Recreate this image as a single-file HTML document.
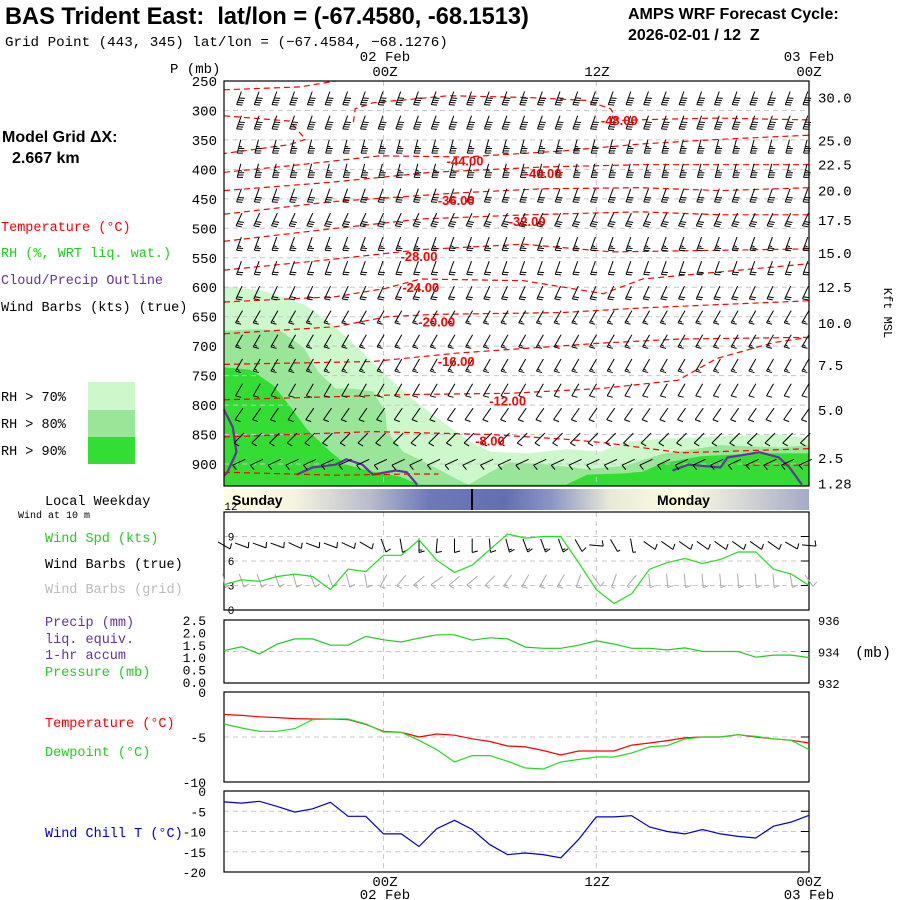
<!DOCTYPE html>
<html><head><meta charset="utf-8"><title>BAS Trident East meteogram</title>
<style>
html,body{margin:0;padding:0;background:#fff;width:900px;height:900px;overflow:hidden}
svg{display:block}
.m{font-family:"Liberation Mono","DejaVu Sans Mono",monospace}
.s{font-family:"Liberation Sans",sans-serif}
</style></head>
<body>
<svg id="chart" width="900" height="900" viewBox="0 0 900 900" xmlns="http://www.w3.org/2000/svg">
<defs>
<linearGradient id="dayg" x1="0" x2="1" y1="0" y2="0">
<stop offset="0" stop-color="#fffee0"/><stop offset="0.12" stop-color="#f6f4e0"/>
<stop offset="0.25" stop-color="#b8bccc"/><stop offset="0.35" stop-color="#6e7ab8"/>
<stop offset="0.48" stop-color="#6270b0"/><stop offset="0.56" stop-color="#8c96c4"/>
<stop offset="0.66" stop-color="#e8ead8"/><stop offset="0.78" stop-color="#fffee0"/>
<stop offset="0.88" stop-color="#d8dad8"/><stop offset="1" stop-color="#a4aac8"/>
</linearGradient>
</defs>
<g class="s" font-weight="bold">
<text x="5" y="24" font-size="23.6">BAS Trident East:&#160; lat/lon = (-67.4580, -68.1513)</text>
<text x="628" y="19" font-size="16">AMPS WRF Forecast Cycle:</text>
<text x="628" y="40" font-size="16">2026-02-01 / 12&#160; Z</text>
</g>
<text class="m" x="5" y="46" font-size="14.2">Grid Point (443, 345) lat/lon = (−67.4584, −68.1276)</text>
<g id="main"></g>
<g id="bottom"></g>
<g class="s" font-size="14">
<text x="2" y="142" font-size="16" font-weight="bold">Model Grid ΔX:</text>
<text x="12" y="163" font-size="16" font-weight="bold">2.667 km</text>
</g>
<g class="m" font-size="13.5">
<text x="1" y="231" fill="#ff0000">Temperature (°C)</text>
<text x="1" y="257" fill="#22cc22">RH (%, WRT liq. wat.)</text>
<text x="1" y="284" fill="#663399">Cloud/Precip Outline</text>
<text x="1" y="311" fill="#000">Wind Barbs (kts) (true)</text>
<rect x="88" y="382" width="47" height="28" fill="#ccf8cc"/>
<rect x="88" y="410" width="47" height="27" fill="#99e699"/>
<rect x="88" y="437" width="47" height="27" fill="#33dd33"/>
<text x="1" y="401">RH &gt; 70%</text>
<text x="1" y="428">RH &gt; 80%</text>
<text x="1" y="455">RH &gt; 90%</text>
<text x="45" y="505">Local Weekday</text>
<text x="18" y="518" font-size="10">Wind at 10 m</text>
<text x="45" y="542" fill="#22cc22">Wind Spd (kts)</text>
<text x="45" y="568">Wind Barbs (true)</text>
<text x="45" y="593" fill="#bbbbbb">Wind Barbs (grid)</text>
<text x="45" y="626" fill="#663399">Precip (mm)</text>
<text x="45" y="643" fill="#663399">liq. equiv.</text>
<text x="45" y="659" fill="#663399">1-hr accum</text>
<text x="45" y="676" fill="#22cc22">Pressure (mb)</text>
<text x="45" y="727" fill="#ff0000">Temperature (°C)</text>
<text x="45" y="756" fill="#22cc22">Dewpoint (°C)</text>
<text x="45" y="837" fill="#0000cc">Wind Chill T (°C)</text>
</g>
</svg>
<script>
// ---------- data ----------
const pressureTicks = [250,300,350,400,450,500,550,600,650,700,750,800,850,900];
const heightTicks = ["30.0","25.0","22.5","20.0","17.5","15.0","12.5","10.0","7.5","5.0","2.5","1.28"];
const heightTickPressures = [278,351,392,436,486,542,600,661,732,808,890,933];
const barbLevels = [279,320,361,402,444,485,526,567,609,650,691,732,774,815,856,897];
const barbSpeedByLevel = [40,40,35,35,30,30,25,20,20,15,15,15,10,10,10,10];
const barbDirByLevel = [200,200,195,195,200,205,200,200,205,210,210,210,210,215,225,245];
const hours = [0,1,2,3,4,5,6,7,8,9,10,11,12,13,14,15,16,17,18,19,20,21,22,23,24,25,26,27,28,29,30,31,32,33];
const windSpeed = [3.1,3.7,3.5,4.1,4.4,4.1,2.5,5.0,4.7,6.7,6.7,8.6,6.1,4.6,5.5,7.4,9.3,8.8,9.0,9.0,5.8,2.5,0.8,2.0,5.0,5.8,6.3,5.7,6.2,7.1,7.1,5.0,4.4,3.0];
const windDir = [120,110,110,110,115,110,110,115,120,160,170,180,185,180,180,175,165,160,160,160,150,95,150,170,125,125,125,125,125,125,125,125,120,95];
const sfcPressure = [934.06,934.3,933.85,934.47,934.8,934.8,934.4,934.4,934.96,934.74,934.6,934.85,935.06,935.06,934.72,934.87,934.8,934.28,934.2,934.2,934.4,934.68,934.47,934.2,934.2,934.1,934.23,934.0,934.0,934.0,933.64,933.77,933.77,933.62];
const sfcTemp = [-2.5,-2.6,-2.75,-2.85,-2.96,-3.0,-3.0,-3.07,-3.6,-4.37,-4.48,-5.0,-4.67,-4.8,-5.2,-5.5,-6.0,-6.1,-6.5,-7.0,-6.55,-6.55,-6.55,-5.9,-5.67,-5.4,-5.1,-5.0,-5.0,-4.74,-5.0,-5.2,-5.37,-5.67];
const sfcDew = [-3.55,-4.0,-4.37,-4.37,-4.07,-3.07,-3.0,-3.0,-3.55,-4.44,-4.48,-5.37,-6.4,-7.78,-7.07,-7.07,-7.7,-8.44,-8.55,-7.78,-7.5,-7.22,-7.22,-6.78,-6.1,-5.96,-5.22,-5.0,-5.0,-4.74,-4.93,-5.2,-5.37,-6.4];
const windChill = [-2.7,-3.0,-2.55,-3.8,-5.2,-4.4,-2.8,-6.25,-6.25,-10.6,-10.6,-13.7,-9.3,-7.24,-9.5,-13.25,-15.7,-15.3,-15.7,-16.5,-12.0,-6.4,-6.4,-6.1,-8.9,-10.0,-10.6,-9.5,-10.6,-11.2,-11.6,-8.7,-7.65,-6.0];
const contourLabels = ["-48.00","-44.00","-40.00","-36.00","-32.00","-28.00","-24.00","-20.00","-16.00","-12.00","-8.00"];
const contourLabelHours = [22.3,13.6,18.0,13.1,17.1,11.0,11.1,12.0,13.1,16.0,15.0];
const contourLabelP = [316,385,406,452,488,547,600,658,725,792,860];
const contours = [
 [[0,265],[4.3,260],[6.3,250]],
 [[0,309],[3.7,318],[4.6,349],[3.7,358],[0,373]],
 [[7.3,320],[7.4,297],[8.4,287],[12.7,275],[17.1,278],[20.4,283],[21.8,297],[22.2,317],[24.5,315],[27.8,313],[33,316]],
 [[0,405],[4.3,392],[8.8,377],[13.6,379],[19.0,369],[23.5,357],[28.0,349],[33,342]],
 [[0,436],[6.0,422],[11.7,405],[18.0,396],[23.5,392],[28.0,392],[33,392]],
 [[0,476],[6.0,455],[13.1,440],[17.9,433],[23.5,431],[28.0,436],[33,431]],
 [[0,522],[6.0,501],[11.2,484],[17.1,477],[23.5,472],[28.0,477],[33,477]],
 [[0,571],[6.0,553],[11.2,536],[16.9,527],[21.9,540],[33,535]],
 [[0,625],[6.3,616],[9.1,602],[11.1,586],[16.9,589],[21.4,611],[23.6,586],[28.0,574],[33,560]],
 [[0,679],[6.3,667],[9.2,650],[12.0,646],[19.0,643],[23.6,635],[33,623]],
 [[0,731],[8.4,726],[13.1,712],[21.2,695],[25.6,688],[33,685]],
 [[0,791],[10.5,782],[16.1,780],[21.2,772],[25.6,758],[27.8,721],[31,694],[33,685]],
 [[0,854],[8.4,845],[15.0,850],[19.3,858],[21.5,864],[25.8,881],[33,874]],
 [[0,914],[6.3,919],[10.6,917],[12.1,917]],
 [[29.3,902],[33,902]]
];
const rh70 = [[0,598],[2.2,606],[4.5,629],[6.1,663],[7.6,704],[8.9,743],[10.6,789],[12.3,828],[13.9,862],[15.0,879],[17.1,882],[19.3,875],[21.3,879],[22.6,862],[24.7,857],[28.0,853],[31.3,850],[33,857],[33,937],[0,937]];
const rh80 = [[0,674],[1.9,671],[3.2,674],[4.5,703],[5.3,743],[6.3,772],[7.3,772],[8.4,777],[9.1,811],[9.2,845],[10.1,879],[11.6,901],[13.1,925],[13.8,935],[15.0,914],[16.1,897],[18.3,901],[20.5,909],[22.6,903],[24.7,883],[28.0,868],[31.3,872],[33,868],[33,937],[0,937]];
const rh90 = [[0,736],[1.5,740],[2.8,767],[3.7,801],[4.7,842],[6.0,879],[6.9,901],[8.4,913],[9.9,921],[11.0,935],[19.3,935],[20.5,918],[22.6,916],[23.6,913],[24.7,899],[26.9,887],[30.2,882],[33,882],[33,937],[0,937]];
const cloudOutlines = [
 [[0,808],[0.5,838],[0.7,880],[0.2,914],[0,920]],
 [[4.1,918],[5.0,906],[6.3,901],[6.9,892],[7.8,901],[8.4,918],[9.7,911],[10.3,914],[10.9,935]],
 [[25.3,911],[26.2,901],[28.0,906],[28.4,889],[30.2,880],[31.3,889],[31.9,906],[32.6,935]]
];
// ---------- scales ----------
const X0=224, X1=809;
function xT(h){return X0+h*(X1-X0)/33;}
function yP(p){return 81+(p-250)*(464-81)/650;}
function yW(v){return 610-v*98/12;}
function yPr(mb){return 683-(mb-932)*63/4;}
function yTe(t){return 692-t*9;}
function yC(t){return 791-t*4.05;}
const NS="http://www.w3.org/2000/svg";
function mk(tag,attrs,parent){const e=document.createElementNS(NS,tag);for(const k in attrs)e.setAttribute(k,attrs[k]);parent.appendChild(e);return e;}
const main=document.getElementById('main');
const bottom=document.getElementById('bottom');

[[rh70,'#ccf8cc','rh-70-region'],[rh80,'#99e699','rh-80-region'],[rh90,'#33dd33','rh-90-region']].forEach(([poly,col,name])=>{
 const e=mk('polygon',{points:poly.map(q=>xT(q[0]).toFixed(1)+','+Math.min(486,yP(q[1])).toFixed(1)).join(' '),fill:col},main);
 
 
});
pressureTicks.forEach(p=>{
 const e=mk('line',{x1:X0,x2:X1,y1:yP(p),y2:yP(p),stroke:'#c8c8c8','stroke-dasharray':'5,4','stroke-width':1},main);
 
 
 const t=mk('text',{x:217,y:yP(p)+5,'text-anchor':'end','font-size':14,'class':'m'},main);
 t.textContent=p;
 
 
});
[9,21].forEach(h=>{
 [[81,486],[512,610],[620,683],[692,782],[791,872]].forEach(r=>{
  const e=mk('line',{x1:xT(h),x2:xT(h),y1:r[0],y2:r[1],stroke:'#c8c8c8','stroke-dasharray':'5,4'},main);
  
  
 });
});
cloudOutlines.forEach(c=>{
 const e=mk('polyline',{points:c.map(q=>xT(q[0]).toFixed(1)+','+Math.min(486,yP(q[1])).toFixed(1)).join(' '),fill:'none',stroke:'#663399','stroke-width':2.2},main);
 
 
});
contours.forEach(c=>{
 const e=mk('polyline',{points:c.map(q=>xT(q[0]).toFixed(1)+','+yP(q[1]).toFixed(1)).join(' '),fill:'none',stroke:'#ff0000','stroke-dasharray':'6,4','stroke-width':1.2},main);
 
 
});
function barb(parent,x,y,ang,spd,len,col,name){
 const g=mk('g',{stroke:col,'stroke-width':1,fill:'none'},parent);
 
 
 const a=ang*Math.PI/180, dx=Math.sin(a), dy=-Math.cos(a);
 const bx=x-dx*len/2, by=y-dy*len/2, tx=x+dx*len/2, ty=y+dy*len/2;
 mk('line',{x1:bx,y1:by,x2:tx,y2:ty},g);
 const px=dy, py=-dx;
 let s=Math.round(spd/5)*5, i=0;
 while(s>=10){const sx=tx-dx*i*2.4, sy=ty-dy*i*2.4;mk('line',{x1:sx,y1:sy,x2:sx+px*len*0.4-dx*1.5,y2:sy+py*len*0.4-dy*1.5},g);s-=10;i++;}
 if(s>=5){const sx=tx-dx*i*2.4, sy=ty-dy*i*2.4;mk('line',{x1:sx,y1:sy,x2:sx+px*len*0.22,y2:sy+py*len*0.22},g);}
}
for(let c=0;c<33;c++){
 barbLevels.forEach((p,i)=>{
  barb(main,239+c*17.7,yP(p),barbDirByLevel[i],barbSpeedByLevel[i],14,'#000','upper-wind-barb');
 });
}
contourLabels.forEach((l,i)=>{
 const t=mk('text',{x:xT(contourLabelHours[i]),y:yP(contourLabelP[i])+5,'text-anchor':'middle','font-size':13,'font-weight':'bold',fill:'#ff0000','class':'s'},main);
 t.textContent=l;
 
 
});
const fr=mk('rect',{x:X0,y:81,width:X1-X0,height:405,fill:'none',stroke:'#000','stroke-width':1.2},main);


heightTicks.forEach((h,i)=>{
 const t=mk('text',{x:818,y:yP(heightTickPressures[i])+5,'font-size':14,'class':'m'},main);
 t.textContent=h;
 
 
});
const kft=mk('text',{x:884,y:313,'font-size':12,'class':'m',transform:'rotate(90 884 313)','text-anchor':'middle'},main);
kft.textContent='Kft MSL';


[['P (mb)',170,73],['02 Feb',385,61],['00Z',385,76],['12Z',597,76],['03 Feb',809,61],['00Z',809,76],['00Z',385,886],['02 Feb',385,899],['12Z',597,886],['00Z',809,886],['03 Feb',809,899]].forEach(a=>{
 const t=mk('text',{x:a[1],y:a[2],'font-size':14,'class':'m','text-anchor':a[0]==='P (mb)'?'start':'middle'},main);
 t.textContent=a[0];
 
 
});
const db=mk('rect',{x:X0,y:489,width:X1-X0,height:21,fill:'url(#dayg)'},bottom);


mk('line',{x1:472,x2:472,y1:489,y2:510,stroke:'#000','stroke-width':2},bottom);
[['Sunday',232],['Monday',657]].forEach(d=>{
 const t=mk('text',{x:d[1],y:505,'font-size':14,'font-weight':'bold','class':'s'},bottom);
 t.textContent=d[0];
 
 
});
function panel(y0,y1,name,grid){
 grid.forEach(gy=>{const e=mk('line',{x1:X0,x2:X1,y1:gy,y2:gy,stroke:'#c8c8c8','stroke-dasharray':'5,4'},bottom);
  
  
  mk('line',{x1:X1-8,x2:X1,y1:gy,y2:gy,stroke:'#000'},bottom);});
 const r=mk('rect',{x:X0,y:y0,width:X1-X0,height:y1-y0,fill:'none',stroke:'#000','stroke-width':1.2},bottom);
 
 
}
panel(512,610,'wind-panel',[yW(3),yW(6),yW(9)]);
panel(620,683,'pressure-panel',[yPr(934)]);
panel(692,782,'temperature-panel',[yTe(-5)]);
panel(791,872,'wind-chill-panel',[yC(-5),yC(-10),yC(-15)]);
function lbl(txt,x,y,anchor,fs,name){
 const t=mk('text',{x:x,y:y,'text-anchor':anchor,'font-size':fs,'class':'m'},bottom);
 t.textContent=txt;
 
 
}
[12,9,6,3,0].forEach(v=>lbl(String(v),231,yW(v)+(v===12?-2:4),'middle',11,'wind-tick-label'));
["2.5","2.0","1.5","1.0","0.5","0.0"].forEach((v,i)=>lbl(v,206,625+i*12.4,'end',13,'precip-tick-label'));
[936,934,932].forEach(v=>lbl(String(v),818,yPr(v)+5,'start',12,'pressure-tick-label'));
lbl('(mb)',855,657,'start',15,'pressure-unit');
[0,-5,-10].forEach(v=>lbl(String(v),206,yTe(v)+5,'end',13,'temp-tick-label'));
[0,-5,-10,-15,-20].forEach(v=>lbl(String(v),206,yC(v)+5,'end',13,'windchill-tick-label'));
hours.forEach((h,i)=>{
 barb(bottom,xT(h),yW(7.9),windDir[i],windSpeed[i]+5,14,'#000','sfc-wind-barb-true');
 barb(bottom,xT(h),yW(3.6),windDir[i]+50,windSpeed[i]+5,14,'#aaaaaa','sfc-wind-barb-grid');
});
function line(vals,fy,col,name){
 const e=mk('polyline',{points:vals.map((v,i)=>xT(hours[i]).toFixed(1)+','+fy(v).toFixed(1)).join(' '),fill:'none',stroke:col,'stroke-width':1.2},bottom);
 
 
}
line(windSpeed,yW,'#22dd22','wind-speed-line');
line(sfcPressure,yPr,'#22cc22','pressure-line');
line(sfcTemp,yTe,'#ff0000','temperature-line');
line(sfcDew,yTe,'#22dd22','dewpoint-line');
line(windChill,yC,'#0000cc','wind-chill-line');
</script>
</body></html>
